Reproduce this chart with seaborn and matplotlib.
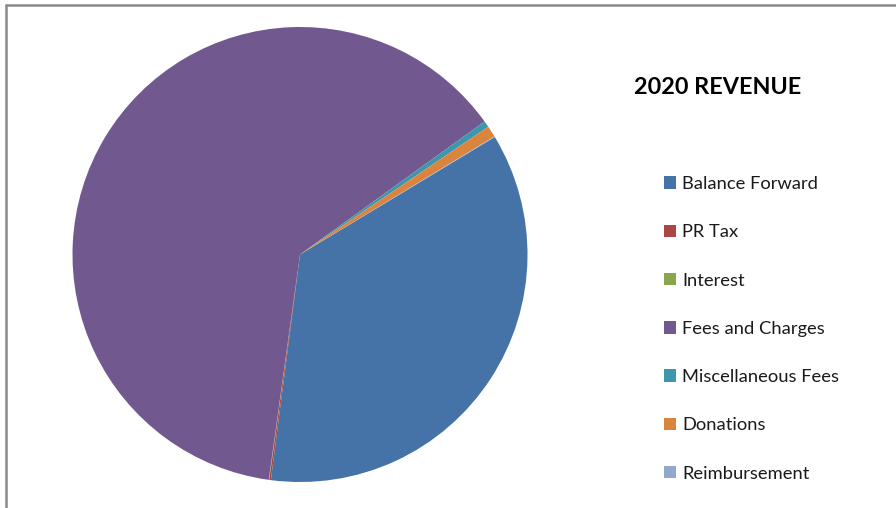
import matplotlib
matplotlib.use("Agg")
import matplotlib.pyplot as plt
from matplotlib.lines import Line2D
import seaborn as sns

categories = ["Balance Forward", "PR Tax", "Interest", "Fees and Charges",
              "Miscellaneous Fees", "Donations", "Reimbursement"]
values = [35.7, 0.12, 0.03, 62.9, 0.45, 0.8, 0.05]
colors = ["#4572A7", "#AA4643", "#89A54E", "#71588F", "#3D96AE", "#DB843D", "#92A8CD"]
title = "2020 REVENUE"

sns.set_theme(style="white")
plt.rcParams['font.family'] = ['Lato', 'DejaVu Sans']
palette = sns.color_palette(colors)

W, H = 896, 508
fig = plt.figure(figsize=(W / 100, H / 100), dpi=100)
fig.patch.set_facecolor("white")

cx, cy, r = 300, 254.5, 227.5
ax = fig.add_axes([(cx - r) / W, (H - cy - r) / H, 2 * r / W, 2 * r / H])
wedges, _ = ax.pie(values, colors=palette, startangle=31.1, counterclock=False,
                   radius=1, wedgeprops=dict(linewidth=0))
ax.set_xlim(-1, 1)
ax.set_ylim(-1, 1)
ax.set_aspect("equal")
ax.axis("off")

fig.text(718 / W, 1 - 88 / H, title, ha="center", va="center",
         fontsize=16.8, fontweight="bold", color="black")

leg = fig.legend(wedges, categories, loc="upper left",
                 bbox_to_anchor=(664 / W, 1 - 176 / H),
                 frameon=False, fontsize=13.2, handlelength=0.68, handleheight=0.68,
                 handletextpad=0.3, labelspacing=1.76, borderpad=0, borderaxespad=0)
for t in leg.get_texts():
    t.set_color("#1a1a1a")

# chart frame (top and left edges visible)
fig.add_artist(Line2D([6 / W, 1], [1 - 5 / H, 1 - 5 / H], color="#8a8a8a", lw=1.8,
                      transform=fig.transFigure))
fig.add_artist(Line2D([6 / W, 6 / W], [0, 1 - 5 / H], color="#8a8a8a", lw=1.8,
                      transform=fig.transFigure))

fig.savefig("out.png", dpi=100, facecolor="white")
